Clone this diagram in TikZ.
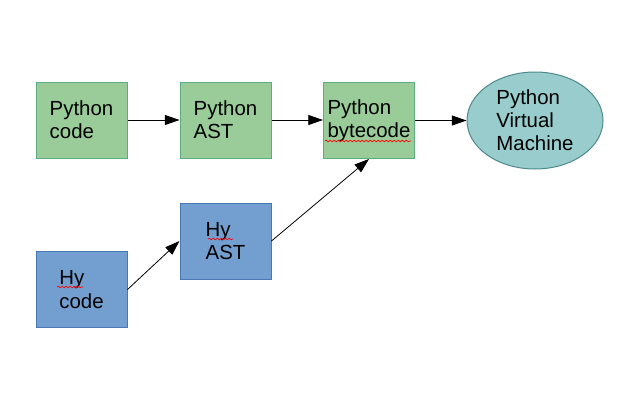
\documentclass[tikz,border=0pt]{standalone}
\usepackage{fontspec}
\setmainfont{Liberation Sans}
\usetikzlibrary{arrows.meta,shapes.geometric,decorations.pathmorphing}
\definecolor{gfill}{HTML}{99CC99}
\definecolor{gdraw}{HTML}{5EAD7E}
\definecolor{bfill}{HTML}{729FCF}
\definecolor{bdraw}{HTML}{4A78B5}
\definecolor{efill}{HTML}{99CCCC}
\definecolor{edraw}{HTML}{4F8A8A}
\tikzset{
  box/.style={rectangle, minimum width=68.25pt, minimum height=57pt, inner sep=0pt, line width=0.75pt,
    align=left, font=\fontsize{15.3pt}{17.4pt}\selectfont},
  gbox/.style={box, fill=gfill, draw=gdraw},
  bbox/.style={box, fill=bfill, draw=bdraw},
  vm/.style={ellipse, minimum width=102pt, minimum height=72.75pt, inner sep=0pt, fill=efill, draw=edraw,
    line width=0.75pt, align=left, font=\fontsize{15.3pt}{17.4pt}\selectfont},
  conn/.style={line width=0.6pt, -{Triangle[length=11pt,width=7.5pt]}},
  squiggle/.style={red, line width=0.5pt, decorate, decoration={snake, amplitude=0.6pt, segment length=3pt}}
}
\begin{document}
\begin{tikzpicture}[x=0.75pt,y=-0.75pt]
\useasboundingbox (0,0) rectangle (640,400);
\node[gbox] (pc) at (81.5,120) {Python\\code};
\node[gbox] (past) at (225.5,120) {Python\\AST};
\node[gbox] (pbc) at (369,120.5) {Python\\bytecode};
\node[vm] (pvm) at (535,120.5) {Python\\Virtual\\Machine};
\node[bbox] (hast) at (225.5,241) {Hy\\AST};
\node[bbox] (hc) at (81.5,289.5) {Hy\\code};
\draw[conn] (pc.east) -- (past.west);
\draw[conn] (past.east) -- (past.east -| pbc.west);
\draw[conn] (pbc.east) -- (pvm.west);
\draw[conn] (hc.east) -- (hast.west);
\draw[conn] (hast.east) -- (pbc.south);
\draw[squiggle] (325,141) -- (411,141);
\draw[squiggle] (208,239) -- (233,239);
\draw[squiggle] (57,287) -- (83,287);
\end{tikzpicture}
\end{document}
